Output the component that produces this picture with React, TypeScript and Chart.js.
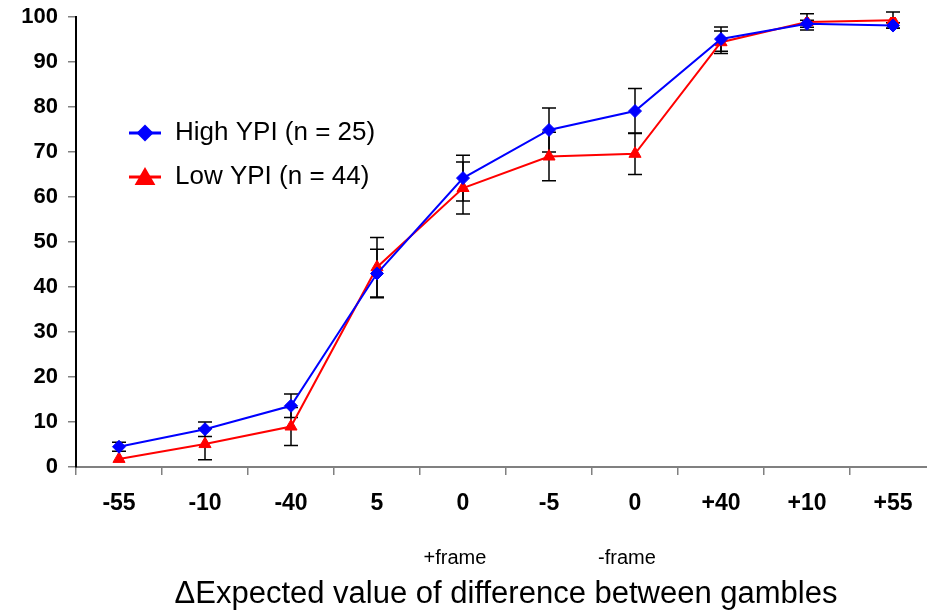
import React, { useEffect, useRef } from 'react';
import { Chart, registerables } from 'chart.js';

Chart.register(...registerables);

// ---- data ----
const categories = ['-55', '-10', '-40', '5', '0', '-5', '0', '+40', '+10', '+55'];
const frameLabels = ['', '', '', '', '+frame', '', '-frame', '', '', ''];
const highLabel = 'High YPI (n = 25)';
const lowLabel = 'Low YPI (n = 44)';
const highYPI = [4.5, 8.4, 13.6, 43.0, 64.2, 74.9, 79.1, 95.1, 98.5, 98.1];
const highErr = [1.0, 1.6, 2.6, 5.4, 5.1, 4.9, 5.0, 2.7, 0.8, 0.6];
const lowYPI = [1.8, 5.1, 9.0, 44.4, 62.0, 69.0, 69.6, 94.4, 98.9, 99.3];
const lowErr = [0, 3.5, 4.2, 6.6, 5.8, 5.4, 4.6, 2.5, 1.8, 1.8];
const yMin = 0;
const yMax = 100;
const yStep = 10;
const xTitle = '\u0394Expected value of difference between gambles';

const FONT = "'Liberation Sans', Arial, Helvetica, sans-serif";

function markerPath(ctx: CanvasRenderingContext2D, style: string, x: number, y: number, r: number) {
  ctx.beginPath();
  if (style === 'rectRot') {
    ctx.moveTo(x, y - r);
    ctx.lineTo(x + r, y);
    ctx.lineTo(x, y + r);
    ctx.lineTo(x - r, y);
  } else {
    const w = r * Math.sin(Math.PI / 3);
    ctx.moveTo(x, y - r);
    ctx.lineTo(x + w, y + r / 2);
    ctx.lineTo(x - w, y + r / 2);
  }
  ctx.closePath();
}

const errorBarPlugin = {
  id: 'errorBars',
  beforeDatasetsDraw(chart: any) {
    const { ctx } = chart;
    const xs = chart.scales.x;
    const ys = chart.scales.y;
    ctx.save();
    ctx.strokeStyle = '#000';
    ctx.lineWidth = 1.5;
    chart.data.datasets.forEach((ds: any) => {
      const errs: number[] = ds.errors || [];
      ds.data.forEach((v: number, i: number) => {
        const e = errs[i];
        if (!e) return;
        const px = xs.getPixelForValue(i);
        const top = ys.getPixelForValue(v + e);
        const bot = ys.getPixelForValue(v - e);
        ctx.beginPath();
        ctx.moveTo(px, top);
        ctx.lineTo(px, bot);
        ctx.moveTo(px - 7, top);
        ctx.lineTo(px + 7, top);
        ctx.moveTo(px - 7, bot);
        ctx.lineTo(px + 7, bot);
        ctx.stroke();
      });
    });
    ctx.restore();
  },
};

const annotationPlugin = {
  id: 'frameAndLegend',
  afterDraw(chart: any) {
    const { ctx, chartArea } = chart;
    const xs = chart.scales.x;
    ctx.save();
    // frame sub-labels under categories
    ctx.fillStyle = '#000';
    ctx.font = `20px ${FONT}`;
    ctx.textAlign = 'center';
    ctx.textBaseline = 'middle';
    frameLabels.forEach((t, i) => {
      if (!t) return;
      ctx.fillText(t, xs.getPixelForValue(i) - 8, chartArea.bottom + 91);
    });
    // legend inside plot area
    const lx = chartArea.left + 53;
    const rows = [chartArea.top + 116, chartArea.top + 160];
    chart.data.datasets.forEach((ds: any, k: number) => {
      const y = rows[k];
      ctx.strokeStyle = ds.borderColor;
      ctx.lineWidth = 3;
      ctx.beginPath();
      ctx.moveTo(lx, y);
      ctx.lineTo(lx + 32, y);
      ctx.stroke();
      ctx.fillStyle = ds.pointBackgroundColor;
      if (ds.pointStyle === 'rectRot') {
        markerPath(ctx, 'rectRot', lx + 16, y, 8.5);
      } else {
        markerPath(ctx, 'triangle', lx + 16, y + 2, 12);
      }
      ctx.fill();
      ctx.fillStyle = '#000';
      ctx.font = `26px ${FONT}`;
      ctx.textAlign = 'left';
      ctx.textBaseline = 'middle';
      ctx.fillText(ds.label, lx + 46, y);
    });
    ctx.restore();
  },
};

export default function App() {
  const canvasRef = useRef<HTMLCanvasElement | null>(null);

  useEffect(() => {
    if (!canvasRef.current) return;
    const chart = new Chart(canvasRef.current, {
      type: 'line',
      data: {
        labels: categories,
        datasets: [
          {
            label: highLabel,
            data: highYPI,
            errors: highErr,
            borderColor: '#0000FF',
            backgroundColor: '#0000FF',
            pointBackgroundColor: '#0000FF',
            pointBorderColor: '#0000FF',
            pointStyle: 'rectRot',
            pointRadius: 6.5,
            pointBorderWidth: 1,
            borderWidth: 2,
            tension: 0,
          } as any,
          {
            label: lowLabel,
            data: lowYPI,
            errors: lowErr,
            borderColor: '#FF0000',
            backgroundColor: '#FF0000',
            pointBackgroundColor: '#FF0000',
            pointBorderColor: '#FF0000',
            pointStyle: 'triangle',
            pointRadius: 7,
            pointBorderWidth: 1,
            borderWidth: 2,
            tension: 0,
          } as any,
        ],
      },
      options: {
        animation: false,
        responsive: false,
        maintainAspectRatio: false,
        layout: { padding: { top: 17, left: 0, right: 0, bottom: 0 } },
        plugins: {
          legend: { display: false },
          tooltip: { enabled: false },
        },
        scales: {
          x: {
            type: 'category',
            offset: true,
            grid: {
              offset: true,
              drawOnChartArea: false,
              drawTicks: true,
              tickLength: 8,
              color: '#808080',
              lineWidth: 1.5,
            },
            border: { color: '#808080', width: 2 },
            ticks: {
              autoSkip: false,
              maxRotation: 0,
              padding: 15,
              color: '#000',
              font: { family: FONT, size: 23, weight: 'bold' },
            },
            title: {
              display: true,
              text: xTitle,
              color: '#000',
              font: { family: FONT, size: 31 },
              padding: { top: 0, bottom: 0 },
            },
            afterFit(scale: any) {
              scale.height = 146;
            },
          },
          y: {
            min: yMin,
            max: yMax,
            grid: {
              drawOnChartArea: false,
              drawTicks: true,
              tickLength: 8,
              color: '#808080',
              lineWidth: 1.5,
            },
            border: { color: '#000', width: 2 },
            ticks: {
              stepSize: yStep,
              padding: 10,
              color: '#000',
              font: { family: FONT, size: 22, weight: 'bold' },
            },
            afterFit(scale: any) {
              scale.width = 76;
              scale.paddingTop = 0;
              scale.paddingBottom = 0;
            },
          },
        },
      } as any,
      plugins: [errorBarPlugin, annotationPlugin],
    });
    return () => chart.destroy();
  }, []);

  return (
    <div
      style={{
        position: 'fixed',
        left: 0,
        top: 0,
        width: 927,
        height: 613,
        overflow: 'hidden',
        background: '#fff',
      }}
    >
      <canvas
        ref={canvasRef}
        width={944}
        height={613}
        style={{ display: 'block', width: 944, height: 613 }}
      />
    </div>
  );
}
